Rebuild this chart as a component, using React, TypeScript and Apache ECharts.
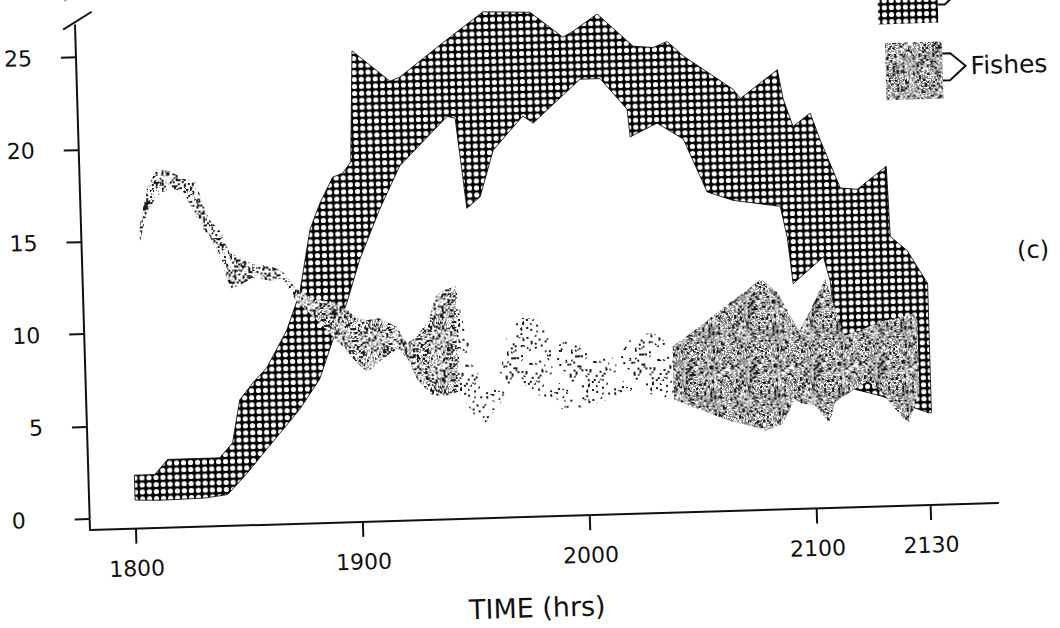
import React, { useEffect, useRef } from 'react';
import * as echarts from 'echarts';

// time axis: minutes after 18:00
const xTickTimes = [0, 60, 120, 180, 210];
const xTickLabels = ['1800', '1900', '2000', '2100', '2130'];
const yTickValues = [0, 5, 10, 15, 20, 25];
const xAxisTitle = 'TIME (hrs)';
const fishLabel = 'Fishes';
const panelLabel = '(c)';

// checkered band (upper and lower edges)
const checkUpperT = [0, 5.4, 8.9, 22.7, 26.2, 28.4, 32.0, 35.8, 41.4, 45.1, 48.3, 51.1, 54.7, 57.4, 59.6, 60.8, 70.6, 73.2, 84.9, 95.7, 108.1, 116.6, 119.3, 125.8, 135.1, 140.4, 144.1, 148.2, 161.2, 163.0, 173.0, 174.3, 176.7, 181.3, 183.8, 188.7, 193.2, 201.0, 201.5, 205.9, 211];
const checkUpperV = [2.3, 2.3, 3.1, 3.1, 3.9, 6.2, 7.1, 7.9, 9.9, 11.9, 15.3, 16.7, 18.1, 18.3, 18.9, 24.9, 23.2, 23.4, 25.2, 26.8, 26.7, 25.3, 25.6, 26.5, 24.7, 24.6, 24.9, 24.1, 22.2, 21.7, 23.2, 21.6, 20.1, 20.8, 19.3, 16.7, 16.6, 17.8, 14.0, 13.2, 11.4];
const checkLowerT = [0, 6.5, 18.4, 24.5, 29.7, 35.2, 44.2, 49.7, 53.5, 57.5, 61.2, 66.9, 72.5, 85.4, 87.5, 89.9, 93.5, 97.3, 105.4, 108.1, 120.8, 126.1, 133.0, 133.6, 140.8, 147.6, 153.5, 160.3, 172.7, 174.3, 175.5, 183.7, 185.3, 185.9, 187.5, 189.0, 197.6, 210.2, 211];
const checkLowerV = [0.95, 0.9, 0.95, 1.1, 2.2, 3.5, 5.6, 7.2, 9.3, 11.3, 13.6, 16.3, 18.6, 21.2, 21.1, 16.2, 16.8, 19.3, 21.1, 20.7, 23.0, 23.0, 21.3, 19.8, 20.5, 19.6, 16.7, 16.2, 15.8, 14.1, 11.6, 13.0, 11.7, 10.1, 8.3, 5.9, 5.4, 4.4, 4.4];

// fishes band
const fishT = [3.3, 5.4, 8.2, 11.7, 15.0, 18.6, 20.1, 21.8, 24.4, 26.8, 29.4, 32.9, 37.4, 40.7, 44.3, 49.0, 52.9, 56.2, 59.8, 62.4, 65.9, 70.4, 73.0, 75.5, 79.0, 80.9, 83.1, 86.3, 87.7, 89.4, 91.1, 92.6, 94.5, 96.4, 100.1, 102.8, 108.0, 110.6, 112.4, 114.0, 117.7, 121.9, 125.6, 129.1, 132.6, 137.9, 143.1, 150.3, 157.4, 164.4, 167.0, 171.5, 174.9, 176.7, 180.2, 184.0, 185.6, 188.6, 194.5, 197.9, 203.2, 205.0, 207.2, 208.0];
const fishUpper = [15.7, 17.7, 18.8, 18.7, 18.3, 18.0, 16.9, 16.0, 15.4, 14.2, 13.9, 13.5, 13.4, 13.1, 12.1, 11.5, 11.4, 11.1, 10.5, 10.3, 10.4, 9.9, 9.0, 9.3, 10.2, 11.5, 11.8, 12.0, 10.3, 8.9, 7.4, 6.9, 6.6, 6.3, 9.9, 10.2, 10.1, 9.1, 8.4, 8.9, 8.7, 8.3, 7.8, 8.0, 9.0, 9.2, 8.4, 9.4, 10.5, 11.5, 11.9, 11.1, 9.7, 9.0, 10.3, 11.8, 10.7, 8.7, 9.1, 9.4, 9.6, 9.7, 9.8, 9.4];
const fishLower = [14.9, 16.5, 17.4, 17.7, 17.6, 16.1, 15.5, 15.1, 13.9, 12.2, 12.4, 12.8, 12.6, 12.7, 11.4, 10.5, 9.6, 8.9, 8.0, 7.5, 8.1, 8.7, 8.2, 7.0, 6.2, 6.1, 6.1, 6.3, 5.8, 5.3, 4.7, 4.4, 4.9, 5.4, 6.3, 6.7, 5.9, 5.7, 5.4, 5.1, 5.2, 5.4, 5.6, 5.9, 6.1, 5.8, 5.5, 4.9, 4.3, 3.9, 3.7, 4.0, 5.3, 5.1, 5.0, 4.0, 5.1, 5.5, 6.2, 5.6, 4.2, 3.9, 5.1, 5.7];

// texture segments of the fish band (by time range)
const fishSegments = [
  { from: 3.3, to: 44.3, tex: 'light' },
  { from: 44.3, to: 86.3, tex: 'mid' },
  { from: 86.3, to: 143.1, tex: 'sparse' },
  { from: 143.1, to: 208.0, tex: 'dense' },
];

const TEXTURES: Record<string, [number, number, number]> = {
  light: [0.38, 0.06, 11],
  mid: [0.3, 0.3, 23],
  sparse: [0.13, 0.0, 37],
  dense: [0.2, 0.55, 51],
};

function hash(x: number, y: number, s: number) {
  const v = Math.sin(x * 127.1 + y * 311.7 + s * 74.7) * 43758.5453;
  return v - Math.floor(v);
}

function speckle(pBlack: number, pGray: number, seed: number) {
  const n = 64;
  const c = document.createElement('canvas');
  c.width = n;
  c.height = n;
  const ctx = c.getContext('2d')!;
  const img = ctx.createImageData(n, n);
  for (let y = 0; y < n; y++) {
    for (let x = 0; x < n; x++) {
      let col = 255;
      if (hash(x >> 1, y >> 1, seed) < pBlack && hash(x, y, seed + 1) > 0.15) col = 25;
      else if (hash(x, y, seed + 2) < pGray) col = 125;
      const k = (y * n + x) * 4;
      img.data[k] = col;
      img.data[k + 1] = col;
      img.data[k + 2] = col;
      img.data[k + 3] = 255;
    }
  }
  ctx.putImageData(img, 0, 0);
  return { image: c, repeat: 'repeat', imageWidth: n, imageHeight: n } as any;
}

function checker() {
  const n = 7;
  const c = document.createElement('canvas');
  c.width = n;
  c.height = n;
  const ctx = c.getContext('2d')!;
  ctx.fillStyle = '#000';
  ctx.fillRect(0, 0, n, n);
  ctx.fillStyle = '#fff';
  ctx.beginPath();
  ctx.arc(3.5, 3.5, 2.6, 0, Math.PI * 2);
  ctx.fill();
  return { image: c, repeat: 'repeat', imageWidth: n, imageHeight: n } as any;
}

export default function App() {
  const ref = useRef<HTMLDivElement>(null);

  useEffect(() => {
    if (!ref.current) return;
    const chart = echarts.init(ref.current, undefined, { renderer: 'svg' });
    const checkPat = checker();
    const pats: Record<string, any> = {};
    Object.keys(TEXTURES).forEach((k) => {
      const [b, g, s] = TEXTURES[k];
      pats[k] = speckle(b, g, s);
    });
    const font = '"DejaVu Sans"';
    const ink = '#111';

    const arrow = (x0: number, y0: number, w: number) => [
      [x0 + w, y0 + 12],
      [x0 + w + 8, y0 + 12],
      [x0 + w + 23, y0 + 25],
      [x0 + w + 7, y0 + 39],
      [x0 + w, y0 + 39],
    ];

    const option: any = {
      animation: false,
      backgroundColor: '#fff',
      textStyle: { fontFamily: font, color: ink },
      grid: { left: 90, top: 25, right: 101.5, bottom: 130, containLabel: false, outerBoundsMode: 'none' },
      xAxis: {
        type: 'value',
        min: -12.15,
        max: 227.9,
        name: xAxisTitle,
        nameLocation: 'middle',
        nameGap: 91,
        nameTextStyle: { fontSize: 27, color: ink, fontFamily: font, verticalAlign: 'middle', padding: [0, 19, 0, 0] },
        axisLine: { show: true, onZero: false, lineStyle: { color: ink, width: 2 } },
        axisTick: { show: true, length: 15, customValues: xTickTimes, lineStyle: { color: ink, width: 2 } },
        axisLabel: {
          customValues: xTickTimes,
          margin: 29,
          fontSize: 22,
          color: ink,
          fontFamily: font,
          formatter: (v: number) => {
            const i = xTickTimes.indexOf(v);
            return i >= 0 ? xTickLabels[i] : '';
          },
        },
        splitLine: { show: false },
      },
      yAxis: {
        type: 'value',
        min: -0.595,
        max: 26.73,
        axisLine: { show: true, onZero: false, lineStyle: { color: ink, width: 2 } },
        axisTick: { show: true, length: 15, customValues: yTickValues, lineStyle: { color: ink, width: 2 } },
        axisLabel: {
          customValues: yTickValues,
          margin: 44,
          fontSize: 22,
          color: ink,
          fontFamily: font,
          formatter: (v: number) => (v === 0 ? '{z|0}' : String(v)),
          rich: { z: { fontSize: 22, fontFamily: font, color: ink, width: 34, align: 'left' } },
        },
        splitLine: { show: false },
      },
      series: [
        {
          type: 'custom',
          name: 'checkered band',
          coordinateSystem: 'cartesian2d',
          silent: true,
          z: 2,
          data: checkUpperT.map((t, i) => [t, checkUpperV[i]]),
          encode: { x: 0, y: 1 },
          renderItem: (params: any, api: any) => {
            if (params.dataIndex !== 0) return null;
            const pts: number[][] = [];
            for (let i = 0; i < checkUpperT.length; i++) pts.push(api.coord([checkUpperT[i], checkUpperV[i]]));
            for (let i = checkLowerT.length - 1; i >= 0; i--) pts.push(api.coord([checkLowerT[i], checkLowerV[i]]));
            return {
              type: 'polygon',
              shape: { points: pts },
              style: { fill: checkPat, stroke: '#000', lineWidth: 0.8 },
            };
          },
        },
        {
          type: 'custom',
          name: fishLabel,
          coordinateSystem: 'cartesian2d',
          silent: true,
          z: 3,
          data: fishT.map((t, i) => [t, fishUpper[i], fishLower[i]]),
          encode: { x: 0, y: [1, 2] },
          renderItem: (params: any, api: any) => {
            if (params.dataIndex !== 0) return null;
            const children = fishSegments.map((seg) => {
              const idx: number[] = [];
              fishT.forEach((t, i) => {
                if (t >= seg.from - 1e-6 && t <= seg.to + 1e-6) idx.push(i);
              });
              const pts: number[][] = [];
              idx.forEach((i) => pts.push(api.coord([fishT[i], fishUpper[i]])));
              idx.slice().reverse().forEach((i) => pts.push(api.coord([fishT[i], fishLower[i]])));
              return { type: 'polygon', shape: { points: pts }, style: { fill: pats[seg.tex], stroke: 'none' } };
            });
            return { type: 'group', children };
          },
        },
      ],
      graphic: [
        { type: 'line', shape: { x1: 78, y1: 29, x2: 107, y2: 12 }, style: { stroke: ink, lineWidth: 2 } },
        { type: 'line', shape: { x1: 80, y1: 0, x2: 107, y2: -15 }, style: { stroke: ink, lineWidth: 2 } },
        { type: 'rect', shape: { x: 893, y: -9, width: 60, height: 57 }, style: { fill: checkPat } },
        { type: 'polyline', shape: { points: arrow(893, -9, 60) }, style: { stroke: ink, lineWidth: 2, fill: 'none' } },
        { type: 'rect', shape: { x: 899, y: 67, width: 57, height: 57 }, style: { fill: pats.dense } },
        { type: 'polyline', shape: { points: arrow(899, 67, 57) }, style: { stroke: ink, lineWidth: 2, fill: 'none' } },
        {
          type: 'text',
          x: 984,
          y: 92,
          style: { text: fishLabel, fontSize: 25, fontFamily: font, fill: ink, align: 'left', verticalAlign: 'middle' },
        },
        {
          type: 'text',
          x: 1025,
          y: 278,
          style: { text: panelLabel, fontSize: 24, fontFamily: font, fill: ink, align: 'left', verticalAlign: 'middle' },
        },
      ],
    };
    chart.setOption(option);
    return () => chart.dispose();
  }, []);

  return (
    <div style={{ position: 'fixed', left: 0, top: 0, width: 1060, height: 628, overflow: 'hidden', background: '#fff' }}>
      <div
        ref={ref}
        style={{
          position: 'absolute',
          left: 0,
          top: 0,
          width: 1100,
          height: 660,
          transform: 'rotate(-1.7deg)',
          transformOrigin: '90px 530px',
        }}
      />
    </div>
  );
}
